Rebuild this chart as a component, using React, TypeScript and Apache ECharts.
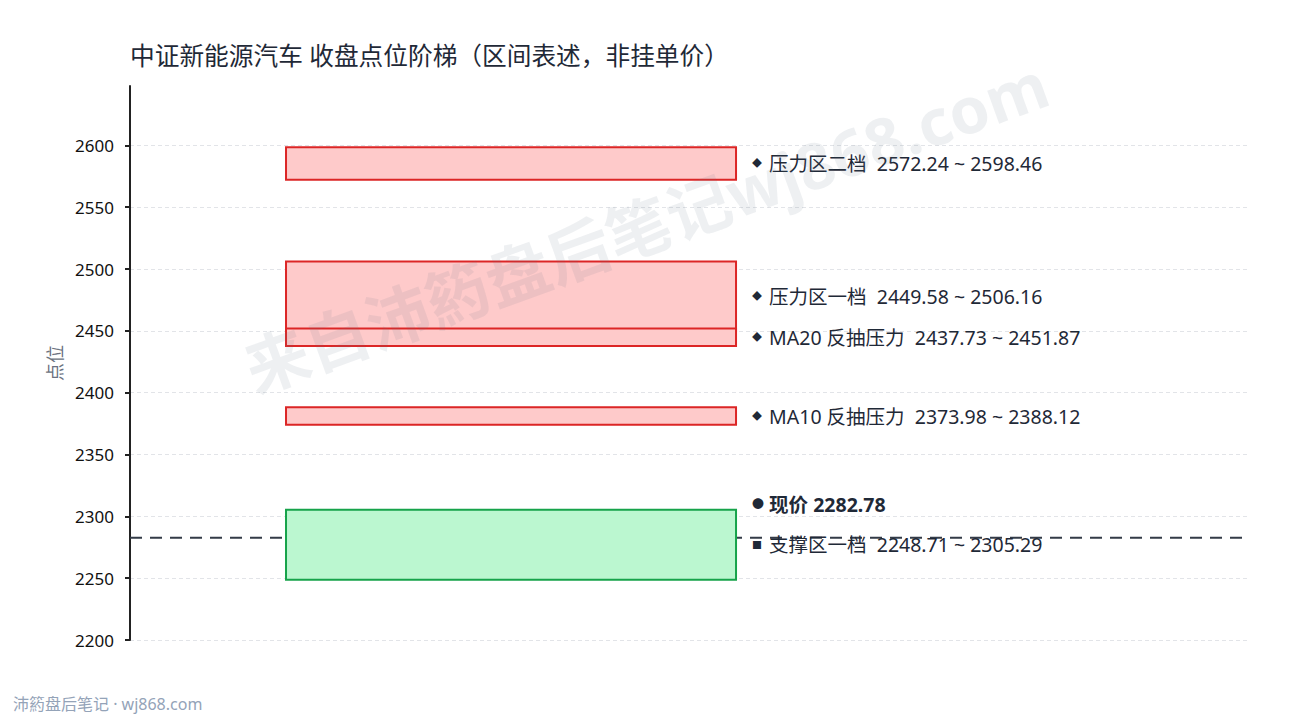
import React, { useEffect, useRef } from "react";
import * as echarts from "echarts";

// ---- data ----
const zoneNames = ["压力区二档", "压力区一档", "MA20 反抽压力", "MA10 反抽压力", "支撑区一档"];
const zoneLow = [2572.24, 2449.58, 2437.73, 2373.98, 2248.71];
const zoneHigh = [2598.46, 2506.16, 2451.87, 2388.12, 2305.29];
const zoneKind = ["resist", "resist", "resist", "resist", "support"];
const currentPrice = 2282.78;
const yTicks = [2200, 2250, 2300, 2350, 2400, 2450, 2500, 2550, 2600];
const yMin = 2200;
const yMax = 2648;

const titleText = "中证新能源汽车 收盘点位阶梯（区间表述，非挂单价）";
const yName = "点位";
const footerText = "沛箹盘后笔记\u00a0·\u00a0wj868.com";
const watermarkText = "来自沛箹盘后笔记wj868.com";

// ---- layout constants ----
const BOX_X0 = 0.1393;
const BOX_X1 = 0.5411;
const FONT = "'Noto Sans', 'Noto Sans CJK SC', sans-serif";
const SP = "\u00a0";

const styles: Record<string, { fill: string; stroke: string; marker: string }> = {
  resist: { fill: "#fecaca", stroke: "#dc2626", marker: "◆" },
  support: { fill: "#bbf7d0", stroke: "#16a34a", marker: "■" },
};

export default function App() {
  const ref = useRef<HTMLDivElement>(null);
  useEffect(() => {
    document.body.style.margin = "0";
    if (!ref.current) return;
    const chart = echarts.init(ref.current, undefined, { renderer: "svg" });
    const zoneData = zoneNames.map((n, i) => [zoneLow[i], zoneHigh[i], i]);
    chart.setOption({
      animation: false,
      backgroundColor: "#ffffff",
      title: {
        text: titleText,
        left: 125,
        top: 38,
        textStyle: { fontFamily: FONT, fontSize: 24.7, fontWeight: "normal", color: "#1f2937" },
      },
      grid: { left: 130, right: 40, top: 86, bottom: 80 },
      xAxis: { type: "value", min: 0, max: 1, show: false },
      yAxis: {
        type: "value",
        min: yMin,
        max: yMax,
        interval: 50,
        name: yName,
        nameLocation: "middle",
        nameGap: 64,
        nameTextStyle: { fontFamily: FONT, fontSize: 18, color: "#6b7280" },
        axisLine: { show: true, lineStyle: { color: "#222", width: 2 } },
        axisTick: { show: true, length: 5, lineStyle: { color: "#222", width: 2 }, customValues: yTicks },
        axisLabel: {
          fontFamily: FONT,
          fontSize: 17,
          color: "#111",
          margin: 16,
          customValues: yTicks,
          formatter: (v: number) => String(v),
        },
        splitLine: { show: true, lineStyle: { color: "#e2e4e8", type: [4, 3], width: 1 } },
      },
      series: [
        {
          type: "line",
          z: 1,
          symbol: "none",
          silent: true,
          data: [[0, currentPrice], [1, currentPrice]],
          lineStyle: { color: "#333b47", width: 2, type: [12, 8] },
        },
        {
          type: "custom",
          z: 2,
          data: zoneData,
          renderItem: (params: any, api: any) => {
            const lo = api.value(0);
            const hi = api.value(1);
            const idx = api.value(2);
            const p0 = api.coord([BOX_X0, hi]);
            const p1 = api.coord([BOX_X1, lo]);
            const st = styles[zoneKind[idx]];
            const mid = api.coord([BOX_X1, (lo + hi) / 2]);
            return {
              type: "group",
              children: [
                {
                  type: "rect",
                  shape: { x: p0[0], y: p0[1], width: p1[0] - p0[0], height: p1[1] - p0[1] },
                  style: { fill: st.fill, stroke: st.stroke, lineWidth: 2 },
                },
                {
                  type: "text",
                  x: mid[0] + 16,
                  y: mid[1],
                  style: {
                    text: `{m|${st.marker}}${SP}${zoneNames[idx].replace(" ", SP)}${SP}${SP}${zoneLow[idx].toFixed(2)}${SP}~${SP}${zoneHigh[idx].toFixed(2)}`,
                    fontFamily: FONT,
                    fontSize: 19.5,
                    fill: "#1f2937",
                    verticalAlign: "middle",
                    rich: { m: { fontSize: 10, fill: "#1f2937", fontFamily: FONT, padding: [0, 2, 0, 0] } },
                  },
                },
              ],
            };
          },
        },
        {
          type: "custom",
          z: 3,
          data: [[currentPrice]],
          renderItem: (params: any, api: any) => {
            const p = api.coord([BOX_X1, api.value(0)]);
            return {
              type: "text",
              x: p[0] + 16,
              y: p[1] - 33,
              style: {
                text: `{m|●}${SP}现价${SP}${currentPrice.toFixed(2)}`,
                fontFamily: FONT,
                fontSize: 19.5,
                fontWeight: "bold",
                fill: "#1f2937",
                verticalAlign: "middle",
                rich: { m: { fontSize: 12, fill: "#1f2937", fontFamily: FONT } },
              },
            };
          },
        },
      ],
      graphic: [
        {
          type: "text",
          left: 13,
          top: 696,
          style: { text: footerText, fontFamily: FONT, fontSize: 16, fill: "#94a3b8" },
        },
        {
          type: "text",
          x: 646,
          y: 226,
          rotation: (20 * Math.PI) / 180,
          z: 100,
          silent: true,
          style: {
            text: watermarkText,
            fontFamily: FONT,
            fontSize: 64,
            fontWeight: "bold",
            fill: "rgba(100,116,139,0.11)",
            align: "center",
            verticalAlign: "middle",
          },
        },
      ],
    });
    return () => chart.dispose();
  }, []);
  return <div ref={ref} style={{ width: 1290, height: 720 }} />;
}
